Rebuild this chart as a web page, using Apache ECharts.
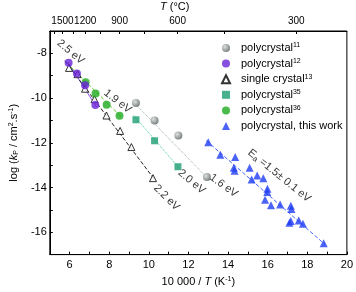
<!DOCTYPE html>
<html><head><meta charset="utf-8">
<script src="https://cdn.jsdelivr.net/npm/echarts@6/dist/echarts.min.js"></script>
<style>html,body{margin:0;padding:0;background:#fff}#c{width:356px;height:292px}</style>
</head><body><div id="c"></div>
<script>
// ---- data (x = 10000/T in K^-1, y = log kp) ----
const poly11 = [[9.35,-10.22],[10.29,-11.00],[11.49,-11.67],[12.93,-13.53]];
const poly12 = [[5.95,-8.42],[6.37,-8.90],[6.78,-9.43],[7.30,-10.31]];
const single13 = [[5.97,-8.65],[6.40,-8.93],[6.78,-9.58],[7.26,-10.05],[7.86,-10.78],[8.55,-11.47],[9.12,-12.19],[10.21,-13.58]];
const poly35 = [[9.35,-10.97],[10.29,-11.91],[11.47,-13.07]];
const poly36 = [[6.81,-9.29],[7.31,-9.80],[7.87,-10.30],[8.52,-10.79]];
const thisWork = [[13.00,-11.98],[13.61,-12.54],[14.36,-12.64],[14.29,-13.12],[14.33,-13.25],[15.09,-13.12],
  [15.19,-13.64],[15.47,-13.46],[15.78,-13.59],[15.99,-14.05],[15.98,-14.20],[15.87,-14.55],[16.17,-14.79],
  [16.63,-14.76],[17.17,-14.81],[17.20,-14.96],[17.17,-15.50],[17.10,-15.57],[17.57,-15.47],[17.78,-15.62],[18.83,-16.49]];
// fit lines (endpoints)
const fit11 = [[9.16,-10.12],[12.90,-13.52]];
const fit12 = [[5.90,-8.38],[7.36,-10.40]];
const fit13 = [[5.76,-8.33],[10.27,-13.62]];
const fit35 = [[9.24,-10.78],[11.55,-13.15]];
const fit36 = [[5.85,-8.42],[8.66,-10.88]];
const fitThis = [[12.90,-11.90],[18.90,-16.55]];
// annotations
const annotations = [
  {x:6.05, y:-7.94, text:'2.5 eV', rot:-40},
  {x:8.43, y:-10.15, text:'1.9 eV', rot:-38},
  {x:10.9, y:-14.45, text:'2.2 eV', rot:-45},
  {x:12.16, y:-13.74, text:'2.0 eV', rot:-40},
  {x:13.78, y:-13.92, text:'1.6 eV', rot:-36},
  {x:16.59, y:-13.47, text:'E{sub|a} =1.5± 0.1 eV', rot:-39}
];
// axes
const topTickTemps = [1650,1500,1350,1200,1050,900,750,600,450,300];
const topLabelTemps = [1500,1200,900,600,300];
const legendNames = ['polycrystal11','polycrystal12','single crystal13','polycrystal35','polycrystal36','polycrystal, this work'];
const legendLabels = {
  'polycrystal11':'polycrystal{sup|11}',
  'polycrystal12':'polycrystal{sup|12}',
  'single crystal13':'single crystal{sup|13}',
  'polycrystal35':'polycrystal{sup|35}',
  'polycrystal36':'polycrystal{sup|36}',
  'polycrystal, this work':'polycrystal, this work'
};
const toInvT = t => 10000/(t+273.15);

const FONT = 'Liberation Sans, Arial, sans-serif';
const chart = echarts.init(document.getElementById('c'), null, {renderer:'canvas'});
const sphere = {type:'radial', x:0.35, y:0.35, r:0.75, colorStops:[{offset:0,color:'#d4d8d8'},{offset:1,color:'#4f5858'}]};

function fitLine(data, color, type, width){
  return {type:'line', data, symbol:'none', silent:true, xAxisIndex:0,
    lineStyle:{color, type, width: width||1}, z:1};
}

const option = {
  animation:false,
  textStyle:{fontFamily:FONT},
  grid:{left:39, right:7, top:31, bottom:33, show:true, borderColor:'#000', borderWidth:1},
  legend:{
    orient:'vertical', left:216, top:37, itemWidth:8, itemHeight:8, itemGap:3.6,
    data: legendNames,
    formatter: n => legendLabels[n],
    textStyle:{fontSize:11, color:'#000', fontFamily:FONT, padding:[0,0,0,6], lineHeight:12,
      rich:{sup:{fontSize:7, verticalAlign:'top', padding:[0,0,5,0], fontFamily:FONT, color:'#000'}}}
  },
  xAxis:[
    {type:'value', min:5, max:20, interval:1, position:'bottom',
     name:'10 000 / {i|T} (K{sup|-1})', nameLocation:'middle', nameGap:19,
     nameTextStyle:{fontSize:11, color:'#000', fontFamily:FONT,
       rich:{i:{fontStyle:'italic', fontSize:11, fontFamily:FONT}, sup:{fontSize:7, verticalAlign:'top', padding:[0,0,5,0], fontFamily:FONT}}},
     axisLine:{lineStyle:{color:'#000'}}, axisTick:{inside:true, length:3, lineStyle:{color:'#000'}},
     axisLabel:{fontSize:11, color:'#000', margin:5, formatter: v => (v%2===0 ? String(v) : '')},
     splitLine:{show:false}},
    {type:'value', min:5, max:20, position:'top',
     axisLine:{lineStyle:{color:'#000'}},
     axisTick:{inside:true, length:3, customValues: topTickTemps.map(toInvT), lineStyle:{color:'#000'}},
     axisLabel:{fontSize:10, color:'#000', margin:5, hideOverlap:false, customValues: topLabelTemps.map(toInvT),
       formatter: v => String(Math.round((10000/v - 273.15)/100)*100)},
     splitLine:{show:false}}
  ],
  yAxis:{type:'value', min:-17, max:-7, interval:1,
    name:'log ({i|k}{sub|P} / cm{sup|2}.s{sup|-1})', nameLocation:'middle', nameGap:26, nameRotate:90,
    nameTextStyle:{fontSize:11, color:'#000', fontFamily:FONT,
      rich:{i:{fontStyle:'italic', fontSize:11, fontFamily:FONT}, sup:{fontSize:7, verticalAlign:'top', padding:[0,0,5,0], fontFamily:FONT}, sub:{fontSize:7, verticalAlign:'bottom', padding:[4,0,0,0], fontFamily:FONT}}},
    axisLine:{lineStyle:{color:'#000'}}, axisTick:{inside:true, length:3, lineStyle:{color:'#000'}},
    axisLabel:{fontSize:11, color:'#000', margin:3, formatter: v => (Math.abs(v)%2===0 ? String(v) : '')},
    splitLine:{show:false}},
  graphic:[{type:'text', left:160, top:1, style:{text:'{i|T} (°C)', font:'11px '+FONT, fill:'#000',
    rich:{i:{fontStyle:'italic', fontSize:11, fontFamily:FONT, fill:'#000'}}}}],
  series:[
    fitLine(fit11,'#9aa8a6','dotted'),
    fitLine(fit12,'#8a55ee','solid'),
    fitLine(fit13,'#222','dashed'),
    fitLine(fit35,'#40c8a0','dotted'),
    fitLine(fit36,'#66cc33','dashed'),
    fitLine(fitThis,'#4a66ff','dashed'),
    {name:'single crystal13', type:'scatter', data:single13, symbol:'triangle', symbolSize:7,
     itemStyle:{color:'#fff', borderColor:'#000', borderWidth:1}, z:3},
    {name:'polycrystal11', type:'scatter', data:poly11, symbol:'circle', symbolSize:8, itemStyle:{color:sphere}, z:3},
    {name:'polycrystal35', type:'scatter', data:poly35, symbol:'rect', symbolSize:7, itemStyle:{color:'#1c9e72'}, z:3},
    {name:'polycrystal36', type:'scatter', data:poly36, symbol:'circle', symbolSize:8, itemStyle:{color:'#1eab1e'}, z:3},
    {name:'polycrystal12', type:'scatter', data:poly12, symbol:'circle', symbolSize:8, itemStyle:{color:'#6a22d8'}, z:4},
    {name:'polycrystal, this work', type:'scatter', data:thisWork, symbol:'triangle', symbolSize:8, itemStyle:{color:'#1f3cf5'}, z:3},
    {type:'scatter', silent:true, symbolSize:0, z:5,
     data: annotations.map(a => ({value:[a.x,a.y], label:{rotate:a.rot, formatter:a.text}})),
     label:{show:true, position:'inside', fontSize:11, color:'#000', fontFamily:FONT,
       rich:{sub:{fontSize:8, verticalAlign:'bottom', padding:[5,0,0,0], fontFamily:FONT}}}}
  ]
};
chart.setOption(option);
</script></body></html>
